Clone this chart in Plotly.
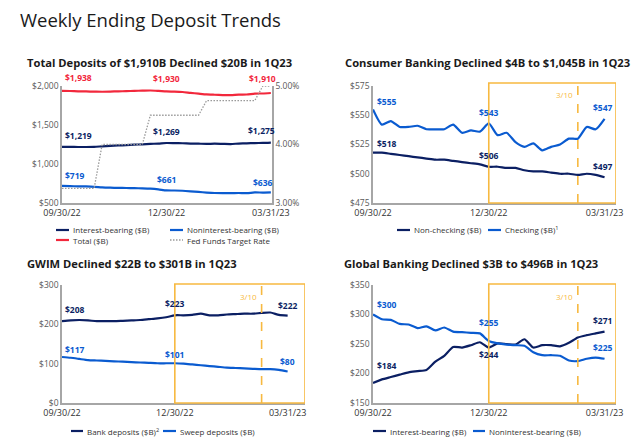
import plotly.graph_objects as go

weeks = ["2022-09-30", "2022-10-07", "2022-10-14", "2022-10-21", "2022-10-28", "2022-11-04",
         "2022-11-11", "2022-11-18", "2022-11-25", "2022-12-02", "2022-12-09", "2022-12-16",
         "2022-12-23", "2022-12-30", "2023-01-06", "2023-01-13", "2023-01-20", "2023-01-27",
         "2023-02-03", "2023-02-10", "2023-02-17", "2023-02-24", "2023-03-03", "2023-03-10",
         "2023-03-17", "2023-03-24", "2023-03-31"]

# Panel 1: Total deposits
tot_interest = [1219, 1220, 1218, 1218, 1220, 1226, 1232, 1238, 1242, 1248, 1252, 1258, 1262, 1269,
                1268, 1266, 1262, 1260, 1258, 1260, 1258, 1256, 1262, 1265, 1268, 1270, 1275]
tot_noninterest = [719, 716, 714, 712, 708, 700, 696, 694, 692, 690, 688, 684, 675, 661,
                   660, 657, 650, 642, 634, 628, 626, 626, 628, 626, 635, 634, 636]
tot_total = [1938, 1936, 1932, 1930, 1928, 1926, 1928, 1932, 1934, 1938, 1940, 1942, 1937, 1930,
             1928, 1923, 1912, 1902, 1892, 1888, 1884, 1882, 1890, 1891, 1903, 1904, 1910]
fed_funds = [3.25, 3.25, 3.25, 3.25, 3.25, 4.00, 4.00, 4.00, 4.00, 4.00, 4.00, 4.50, 4.50, 4.50,
             4.50, 4.50, 4.50, 4.50, 4.75, 4.75, 4.75, 4.75, 4.75, 4.75, 4.75, 5.00, 5.00]

# Panel 2: Consumer Banking
cb_noncheck = [518, 518, 517, 516, 515, 514, 513, 512, 512, 511, 510, 509, 508, 506,
               506, 505, 505, 503, 502, 502, 501, 500, 500, 499, 500, 499, 497]
cb_check = [555, 542, 545, 540, 540, 541, 538, 538, 538, 542, 535, 537, 536, 543,
            533, 535, 527, 523, 526, 520, 523, 525, 530, 530, 540, 538, 547]

# Panel 3: GWIM
gw_bank = [208, 210, 211, 210, 208, 208, 208, 209, 210, 211, 213, 215, 218, 223,
           223, 224, 227, 223, 223, 225, 226, 227, 227, 229, 230, 224, 222]
gw_sweep = [117, 115, 112, 109, 108, 107, 106, 105, 104, 103, 102, 101, 101, 101,
            100, 98, 96, 94, 92, 90, 89, 88, 87, 86, 86, 84, 80]

# Panel 4: Global Banking
gb_interest = [184, 190, 194, 198, 202, 204, 206, 220, 230, 245, 244, 248, 253, 244,
               251, 250, 249, 258, 244, 248, 248, 246, 252, 261, 265, 268, 271]
gb_noninterest = [300, 292, 291, 284, 283, 277, 280, 273, 278, 271, 270, 269, 268, 255,
                  251, 249, 248, 247, 236, 231, 231, 230, 222, 221, 225, 227, 225]

tick_dates = ["2022-09-30", "2022-12-30", "2023-03-31"]
tick_text = ["09/30/22", "12/30/22", "03/31/23"]

NAVY = "#0B1F63"
BLUE = "#0A5BD0"
RED = "#F2283C"
GRAY = "#A6A6A6"
ORANGE = "#F7B940"
TXT = "#333333"
FONT = "Open Sans"

# page has an 8px body margin; figure is sized to fill the remaining window
OFF = 8
W, H = 640 - OFF, 444 - OFF
def px(x): return (x - OFF) / W
def py(y): return 1 - (y - OFF) / H

fig = go.Figure()

def line(x, y, color, xa, ya, width=2.2, dash=None, shape="spline"):
    fig.add_trace(go.Scatter(x=x, y=y, mode="lines", xaxis=xa, yaxis=ya,
                             line=dict(color=color, width=width, dash=dash, shape=shape, smoothing=0.6),
                             showlegend=False, hoverinfo="skip"))

# panel 1
line(weeks, fed_funds, "#9A9A9A", "x", "y2", width=1.3, dash="1.5px,1.5px", shape="linear")
line(weeks, tot_total, RED, "x", "y")
line(weeks, tot_interest, NAVY, "x", "y")
line(weeks, tot_noninterest, BLUE, "x", "y")
# panel 2
line(weeks, cb_noncheck, NAVY, "x3", "y3")
line(weeks, cb_check, BLUE, "x3", "y3")
# panel 3
line(weeks, gw_bank, NAVY, "x4", "y4")
line(weeks, gw_sweep, BLUE, "x4", "y4")
# panel 4
line(weeks, gb_interest, NAVY, "x5", "y5")
line(weeks, gb_noninterest, BLUE, "x5", "y5")

tickfont = dict(family=FONT, size=8.5, color="#595959")
datefont = dict(family=FONT, size=9, color=TXT)

def xaxis(dom, rng, anchor):
    return dict(domain=[px(dom[0]), px(dom[1])], range=rng, anchor=anchor, type="date",
                tickvals=tick_dates, ticktext=tick_text, tickfont=datefont, showgrid=False,
                zeroline=False, showline=True, linecolor=GRAY, linewidth=1.5, ticks="",
                fixedrange=True, automargin=False)

def yaxis(dom, rng, dtick, anchor, fmt):
    vals = list(range(rng[0], rng[1] + 1, dtick))
    return dict(domain=[py(dom[1]), py(dom[0])], range=rng, anchor=anchor, tickvals=vals,
                ticktext=[fmt(v) for v in vals], tickfont=tickfont, showgrid=False, zeroline=False,
                showline=True, linecolor=GRAY, linewidth=1.5, ticks="", fixedrange=True,
                automargin=False)

fig.update_layout(
    template="none",
    xaxis=xaxis((62, 272), ["2022-09-30", "2023-04-01"], "y"),
    yaxis=yaxis((86, 203), [500, 2000], 500, "x", lambda v: f"${v:,}"),
    yaxis2=dict(overlaying="y", side="right", anchor="x", range=[3, 5], tickvals=[3, 4, 5],
                ticktext=["3.00%", "4.00%", "5.00%"], tickfont=tickfont, showgrid=False, zeroline=False,
                showline=True, linecolor=GRAY, linewidth=1.5, ticks="", fixedrange=True,
                automargin=False),
    xaxis3=xaxis((373, 616), ["2022-09-30", "2023-04-09"], "y3"),
    yaxis3=yaxis((86, 203), [475, 575], 25, "x3", lambda v: f"${v}"),
    xaxis4=xaxis((62, 305), ["2022-09-30", "2023-04-14"], "y4"),
    yaxis4=yaxis((285, 403), [0, 300], 100, "x4", lambda v: f"${v}"),
    xaxis5=xaxis((373, 616), ["2022-09-30", "2023-04-09"], "y5"),
    yaxis5=yaxis((285, 403), [150, 350], 50, "x5", lambda v: f"${v}"),
)

shapes = []
# Orange 1Q23 boxes and 3/10 markers
for xa, end, top, bottom in [("x3", "2023-04-09", 83, 203), ("x4", "2023-04-14", 284, 403),
                             ("x5", "2023-04-09", 284, 403)]:
    shapes.append(dict(type="rect", xref=xa, yref="paper", x0="2022-12-30", x1=end,
                       y0=py(bottom), y1=py(top), line=dict(color=ORANGE, width=1.6),
                       fillcolor="rgba(0,0,0,0)", layer="above"))
    shapes.append(dict(type="line", xref=xa, yref="paper", x0="2023-03-10", x1="2023-03-10",
                       y0=py(bottom), y1=py(top), line=dict(color=ORANGE, width=1.6, dash="dash")))

annotations = []
def txt(x, y, s, size, color, xanchor="center", bold=False, xref="paper", yref="paper",
        xshift=0, yshift=0, family=FONT):
    annotations.append(dict(x=x, y=y, xref=xref, yref=yref, text=s, showarrow=False,
                            xanchor=xanchor, yanchor="middle", xshift=xshift, yshift=yshift,
                            font=dict(family=family, size=size, color=color,
                                      weight="bold" if bold else "normal")))

for xa, top in [("x3", 95), ("x4", 296), ("x5", 296)]:
    txt("2023-03-10", py(top), "3/10", 8, ORANGE, xanchor="right", xref=xa, xshift=-3)

# Titles
txt(px(18), py(19), "Weekly Ending Deposit Trends", 18.5, "#1A1A1A", xanchor="left")
txt(px(25), py(63), "Total Deposits of $1,910B Declined $20B in 1Q23", 11.2, "#1A1A1A", "left", True)
txt(px(343), py(63), "Consumer Banking Declined $4B to $1,045B in 1Q23", 11.2, "#1A1A1A", "left", True)
txt(px(25), py(263), "GWIM Declined $22B to $301B in 1Q23", 11.2, "#1A1A1A", "left", True)
txt(px(342), py(263), "Global Banking Declined $3B to $496B in 1Q23", 11.2, "#1A1A1A", "left", True)

# Value labels: (text, date, value, color, xanchor, xshift, yshift, xref, yref)
value_labels = [
    ("$1,938", "2022-09-30", 1938, RED, "left", 1, 13, "x", "y"),
    ("$1,930", "2022-12-30", 1930, RED, "center", 0, 13, "x", "y"),
    ("$1,910", "2023-03-31", 1910, RED, "center", -8, 15, "x", "y"),
    ("$1,219", "2022-09-30", 1219, NAVY, "left", 1, 11, "x", "y"),
    ("$1,269", "2022-12-30", 1269, NAVY, "center", 0, 12, "x", "y"),
    ("$1,275", "2023-03-31", 1275, NAVY, "center", -9, 12, "x", "y"),
    ("$719", "2022-09-30", 719, BLUE, "left", 1, 10, "x", "y"),
    ("$661", "2022-12-30", 661, BLUE, "center", 0, 11, "x", "y"),
    ("$636", "2023-03-31", 636, BLUE, "center", -8, 10, "x", "y"),
    ("$555", "2022-09-30", 555, BLUE, "left", 2, 8, "x3", "y3"),
    ("$543", "2022-12-30", 543, BLUE, "center", 0, 11, "x3", "y3"),
    ("$547", "2023-03-31", 547, BLUE, "center", -2, 11, "x3", "y3"),
    ("$518", "2022-09-30", 518, NAVY, "left", 2, 9, "x3", "y3"),
    ("$506", "2022-12-30", 506, NAVY, "center", 0, 11, "x3", "y3"),
    ("$497", "2023-03-31", 497, NAVY, "center", -2, 11, "x3", "y3"),
    ("$208", "2022-09-30", 208, NAVY, "left", 1, 12, "x4", "y4"),
    ("$223", "2022-12-30", 223, NAVY, "center", 0, 12, "x4", "y4"),
    ("$222", "2023-03-31", 222, NAVY, "center", 0, 10, "x4", "y4"),
    ("$117", "2022-09-30", 117, BLUE, "left", 1, 7, "x4", "y4"),
    ("$101", "2022-12-30", 101, BLUE, "center", 0, 9, "x4", "y4"),
    ("$80", "2023-03-31", 80, BLUE, "center", 0, 10, "x4", "y4"),
    ("$300", "2022-09-30", 300, BLUE, "left", 2, 10, "x5", "y5"),
    ("$255", "2022-12-30", 255, BLUE, "center", 0, 19, "x5", "y5"),
    ("$271", "2023-03-31", 271, NAVY, "center", -2, 11, "x5", "y5"),
    ("$184", "2022-09-30", 184, NAVY, "left", 2, 17, "x5", "y5"),
    ("$244", "2022-12-30", 244, NAVY, "center", 0, -7, "x5", "y5"),
    ("$225", "2023-03-31", 225, BLUE, "center", -2, 11, "x5", "y5"),
]
for s, d, v, c, xa_, xs, ys, xr, yr in value_labels:
    txt(d, v, s, 8.5, c, xa_, True, xref=xr, yref=yr, xshift=xs, yshift=ys)

# Legends: (key x0, key x1, y, color, dash, label)
legend_items = [
    (56, 69, 230, NAVY, None, "Interest-bearing ($B)"),
    (170, 183, 230, BLUE, None, "Noninterest-bearing ($B)"),
    (56, 69, 240, RED, None, "Total ($B)"),
    (170, 183, 240, "#9A9A9A", "1.5px,1.5px", "Fed Funds Target Rate"),
    (397, 410, 230, NAVY, None, "Non-checking ($B)"),
    (488, 501, 230, BLUE, None, "Checking ($B)<sup>1</sup>"),
    (71, 83, 431, NAVY, None, "Bank deposits ($B)<sup>2</sup>"),
    (163, 176, 431, BLUE, None, "Sweep deposits ($B)"),
    (373, 386, 431, NAVY, None, "Interest-bearing ($B)"),
    (473, 485, 431, BLUE, None, "Noninterest-bearing ($B)"),
]
for x0, x1, y, c, dash, label in legend_items:
    shapes.append(dict(type="line", xref="paper", yref="paper", x0=px(x0), x1=px(x1),
                       y0=py(y), y1=py(y), line=dict(color=c, width=2.2 if dash is None else 1.3, dash=dash)))
    txt(px(x1 + 2), py(y), label, 8, TXT, "left")

fig.update_layout(
    width=W, height=H, margin=dict(l=0, r=0, t=0, b=0, pad=0, autoexpand=False),
    paper_bgcolor="white", plot_bgcolor="white",
    shapes=shapes, annotations=annotations, showlegend=False,
    font=dict(family=FONT, color=TXT),
)

fig.write_html("out.html", config={"displayModeBar": False})
